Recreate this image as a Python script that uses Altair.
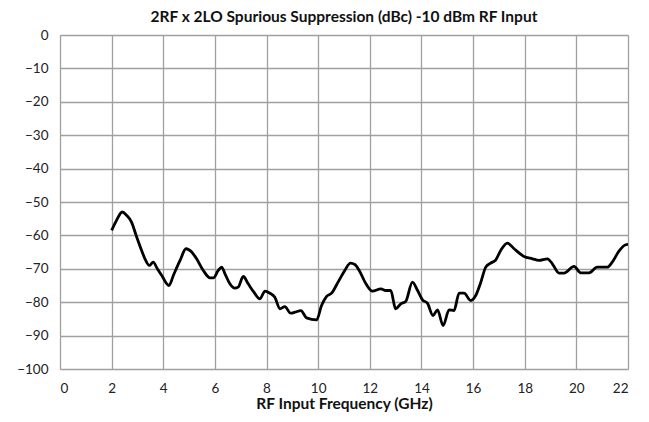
import altair as alt
import pandas as pd

freq_ghz = [2.0, 2.19, 2.41, 2.58, 2.77, 2.97, 3.16, 3.29, 3.46, 3.61, 3.77, 3.94, 4.22, 4.39,
            4.65, 4.88, 5.1, 5.29, 5.55, 5.81, 5.94, 6.13, 6.26, 6.39, 6.58, 6.77, 6.9, 7.1,
            7.29, 7.51, 7.74, 7.94, 8.13, 8.32, 8.52, 8.71, 8.93, 9.1, 9.33, 9.55, 9.94, 10.13,
            10.32, 10.52, 10.77, 11.03, 11.25, 11.42, 11.59, 11.85, 12.1, 12.43, 12.62, 12.81,
            13.0, 13.2, 13.39, 13.65, 13.85, 14.04, 14.23, 14.45, 14.62, 14.84, 15.07, 15.26,
            15.46, 15.65, 15.91, 16.1, 16.3, 16.49, 16.68, 16.88, 17.07, 17.33, 17.59, 17.97,
            18.3, 18.55, 18.88, 19.07, 19.33, 19.52, 19.91, 20.17, 20.49, 20.81, 21.2, 21.39,
            21.65, 21.91, 22.0]
suppression_dbc = [-58.5, -55.5, -53.0, -54.0, -56.0, -60.5, -64.5, -67.0, -69.0, -68.0, -70.0,
                   -72.0, -75.0, -72.0, -67.5, -64.0, -65.0, -67.0, -70.5, -72.7, -72.7, -70.5,
                   -69.5, -71.5, -74.5, -75.8, -75.5, -72.3, -74.5, -77.0, -79.0, -76.7, -77.3,
                   -78.5, -82.0, -81.3, -83.3, -83.0, -82.5, -84.7, -85.3, -81.0, -78.3, -77.3,
                   -74.0, -70.5, -68.3, -68.7, -70.5, -74.5, -76.7, -76.0, -76.5, -76.5, -82.0,
                   -80.5, -79.8, -74.0, -76.5, -79.3, -80.3, -84.0, -82.3, -87.0, -82.3, -82.5,
                   -77.3, -77.3, -79.5, -78.0, -74.0, -69.5, -68.3, -67.3, -64.5, -62.3, -64.0,
                   -66.3, -67.0, -67.5, -67.0, -68.5, -71.3, -71.3, -69.3, -71.2, -71.2, -69.5,
                   -69.5, -68.0, -64.7, -62.8, -62.7]
x_ticks = [0, 2, 4, 6, 8, 10, 12, 14, 16, 18, 20, 22]
y_ticks = [0, -10, -20, -30, -40, -50, -60, -70, -80, -90, -100]

df = pd.DataFrame({"f": freq_ghz, "s": suppression_dbc})

FONT = "Lato"

chart = alt.Chart(df).mark_line(
    color="black", strokeWidth=2.8, interpolate="monotone"
).encode(
    x=alt.X("f:Q", scale=alt.Scale(domain=[0, 22], nice=False),
            axis=alt.Axis(values=x_ticks, title="RF Input Frequency (GHz)",
                          grid=True, gridColor="#a0a0a0", gridWidth=1.3,
                          domain=False, ticks=False, labelPadding=12,
                          labelFontSize=13.5, labelColor="#222",
                          titleFontSize=15.5, titleFontWeight="bold", titleColor="#111",
                          titlePadding=2, labelFont=FONT, titleFont=FONT)),
    y=alt.Y("s:Q", scale=alt.Scale(domain=[-100, 0], nice=False),
            axis=alt.Axis(values=y_ticks, title=None,
                          grid=True, gridColor="#a0a0a0", gridWidth=1.3,
                          domain=False, ticks=False, labelPadding=12,
                          labelFontSize=13.5, labelColor="#222", labelFont=FONT)),
).properties(
    width=568,
    height=334,
    title=alt.TitleParams("2RF x 2LO Spurious Suppression (dBc) -10 dBm RF Input",
                          fontSize=15.5, fontWeight="bold", font=FONT, color="#111",
                          anchor="middle", offset=3),
    autosize=alt.AutoSizeParams(type="none"),
    padding={"left": 52, "top": 27, "right": 5, "bottom": 45},
).configure_view(
    stroke="black", strokeWidth=2.4
).configure(background="white")

chart.save("out.html", embed_options={"renderer": "svg", "actions": False})
